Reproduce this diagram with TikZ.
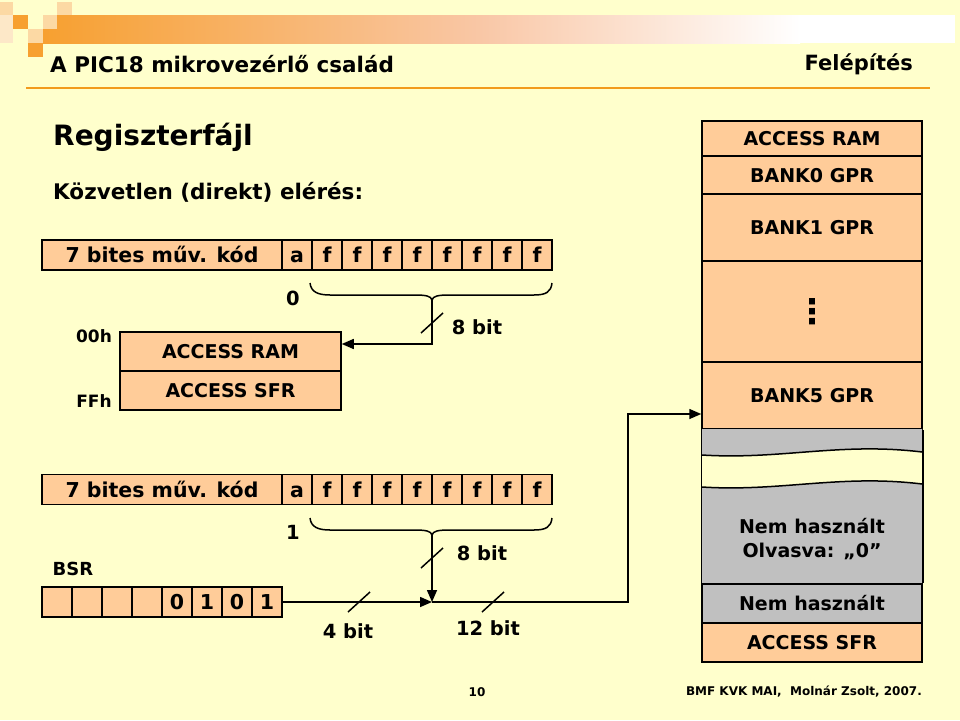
\documentclass[tikz,border=0pt]{standalone}
\usepackage{fontspec}
\setmainfont{DejaVu Sans}
\usetikzlibrary{arrows.meta}

\definecolor{slidebg}{HTML}{FFFFCC}
\definecolor{peach}{HTML}{FFCC99}
\definecolor{unused}{HTML}{C0C0C0}
\definecolor{accent}{HTML}{F29B1D}
\definecolor{accentpale}{HTML}{FCD9A4}
\definecolor{barorange}{HTML}{F7A030}
\definecolor{barsalmon}{HTML}{F9C7A6}

% small slash on a bus line
\newcommand{\busmark}[1]{\draw[wire] (#1) ++(-11,10) -- ++(22,-20);}

\tikzset{
  wire/.style={line width=1.5pt},
  cell/.style={draw, fill=peach, line width=1.5pt, minimum height=30pt, minimum width=30pt,
    inner sep=0pt, text height=15pt, text depth=0pt, font=\bfseries\fontsize{20.5}{24}\selectfont},
  memrow/.style={draw, fill=peach, line width=1.5pt, minimum width=220pt, inner sep=0pt,
    text height=14pt, text depth=0pt, font=\bfseries\fontsize{19}{24}\selectfont},
  lbl/.style={inner sep=0pt, font=\bfseries\fontsize{19.5}{24}\selectfont},
}

\begin{document}
\begin{tikzpicture}[x=1pt, y=-1pt, >={Triangle[length=12pt,width=10pt]}]
    \useasboundingbox (0,0) rectangle (960,720);
    % slide background and header
    \fill[slidebg] (0,0) rectangle (960,720);
    \shade[left color=barorange, right color=barsalmon] (43,15) rectangle (481,43);
    \shade[left color=barsalmon, right color=white] (480,15) rectangle (800,43);
    \fill[white] (800,15) rectangle (955,43);
    \fill[accentpale] (0,2) rectangle (13,15);
    \fill[accentpale!60] (0,15) rectangle (13,43);
    \fill[accentpale] (57,2) rectangle (72,15);
    \fill[barorange] (13,15) rectangle (28,29);
    \fill[accentpale] (43,15) rectangle (57,29);
    \fill[accentpale] (28,29) rectangle (43,43);
    \fill[barorange] (28,43) rectangle (43,57);
    \node[anchor=base west, inner sep=0pt, font=\bfseries\fontsize{21.5}{24}\selectfont] (title) at (50,72) {A PIC18 mikrovezérlő család};
    \node[anchor=base east, inner sep=0pt, font=\bfseries\fontsize{21}{24}\selectfont] (section) at (913,70) {Felépítés};
    \draw[accent, line width=2pt] (26,88) -- (930,88);
    \node[anchor=base west, inner sep=0pt, font=\bfseries\fontsize{28}{30}\selectfont] (heading) at (53,145) {Regiszterfájl};
    \node[anchor=base west, inner sep=0pt, font=\bfseries\fontsize{21.5}{24}\selectfont] (subheading) at (53,199) {Közvetlen (direkt) elérés:};

    % a = 0 : access bank
    \node[cell, minimum width=240pt] (opA) at (162,255) {7 bites műv. kód};
    \foreach \t [count=\i from 0] in {a,f,f,f,f,f,f,f,f}
        \node[cell] (opA\i) at (297+30*\i,255) {\t};
    \node[lbl] (abitA) at (293,298) {0};
    \draw[wire] (310,283) .. controls (311,292) and (318,295) .. (330,295) -- (414,295)
        .. controls (426,295) and (431,296) .. (432,300) .. controls (433,296) and (438,295) .. (450,295)
        -- (534,295) .. controls (546,295) and (551,292) .. (552,283);
    \coordinate (tipA) at (432,300);
    \coordinate (bendA) at (432,344);
    \node[memrow, minimum width=221pt, minimum height=39pt] (accram) at (230.5,351.5) {ACCESS RAM};
    \node[memrow, minimum width=221pt, minimum height=39pt] (accsfr) at (230.5,390.5) {ACCESS SFR};
    \node[lbl, font=\bfseries\fontsize{17}{20}\selectfont] (lo) at (94,336) {00h};
    \node[lbl, font=\bfseries\fontsize{17}{20}\selectfont] (hi) at (94,401) {FFh};
    \draw[wire, ->] (tipA) -- (bendA) -- (bendA -| accram.east);
    \busmark{432,323}
    \node[lbl] (widthA) at (477,327) {8 bit};

    % a = 1 : BSR + f
    \node[cell, minimum width=240pt] (opB) at (162,489.5) {7 bites műv. kód};
    \foreach \t [count=\i from 0] in {a,f,f,f,f,f,f,f,f}
        \node[cell] (opB\i) at (297+30*\i,489.5) {\t};
    \node[lbl] (abitB) at (293,532) {1};
    \draw[wire] (310,518) .. controls (311,527) and (318,530) .. (330,530) -- (414,530)
        .. controls (426,530) and (431,531) .. (432,535) .. controls (433,531) and (438,530) .. (450,530)
        -- (534,530) .. controls (546,530) and (551,527) .. (552,518);
    \coordinate (tipB) at (432,535);
    \node[lbl, font=\bfseries\fontsize{18}{20}\selectfont] (bsrlabel) at (73,569) {BSR};
    \foreach \t [count=\i from 0] in {{},{},{},{},0,1,0,1}
        \node[cell] (bsr\i) at (57+30*\i,602) {\t};
    \coordinate (junction) at (432,602);
    \coordinate (turn) at (628,414);
    \draw[wire, ->] (tipB) -- (junction);
    \draw[wire, ->] (bsr7.east) -- (junction);
    \busmark{432,558}
    \busmark{359,602}
    \busmark{493,602}
    \node[lbl] (widthB) at (482,553) {8 bit};
    \node[lbl] (widthC) at (348,631) {4 bit};
    \node[lbl] (widthD) at (488,628) {12 bit};

    % data memory map
    \node[memrow, minimum height=35pt] (ram2) at (812,138.5) {ACCESS RAM};
    \node[memrow, minimum height=38pt] (bank0) at (812,175) {BANK0 GPR};
    \node[memrow, minimum height=67pt] (bank1) at (812,227.5) {BANK1 GPR};
    \node[memrow, minimum height=101pt, text height=24pt, font=\bfseries\fontsize{34}{34}\selectfont] (banks) at (812,311.5) {⋮};
    \node[memrow, minimum height=67pt] (bank5) at (812,395.5) {BANK5 GPR};
    \fill[unused] (702,429) -- (922,429) -- (922,452) .. controls (840,442) and (780,460) .. (702,455) -- cycle;
    \draw[wire] (922,452) .. controls (840,442) and (780,460) .. (702,455);
    \fill[unused] (702,487) .. controls (780,492) and (840,474) .. (922,484) -- (922,584) -- (702,584) -- cycle;
    \draw[wire] (702,487) .. controls (780,492) and (840,474) .. (922,484);
    \node[align=center, inner sep=0pt, font=\bfseries\fontsize{19}{24}\selectfont] (unused1) at (812,539) {Nem használt\\Olvasva: „0”};
    \node[memrow, fill=unused, minimum height=39pt] (unused2) at (812,603.5) {Nem használt};
    \node[memrow, minimum height=39pt] (sfr2) at (812,642.5) {ACCESS SFR};
    \draw[wire] (bank5.south west) -- (unused2.north west);
    \draw[wire] (bank5.south east) -- (unused2.north east);
    \draw[wire, ->] (junction) -| (turn) -- (turn -| bank5.west);

    % footer
    \node[inner sep=0pt, font=\bfseries\fontsize{12}{14}\selectfont] (page) at (477,692) {10};
    \node[anchor=east, inner sep=0pt, font=\bfseries\fontsize{12}{14}\selectfont] (credit) at (922,692) {BMF KVK MAI,\ \ Molnár Zsolt, 2007.};
\end{tikzpicture}
\end{document}
